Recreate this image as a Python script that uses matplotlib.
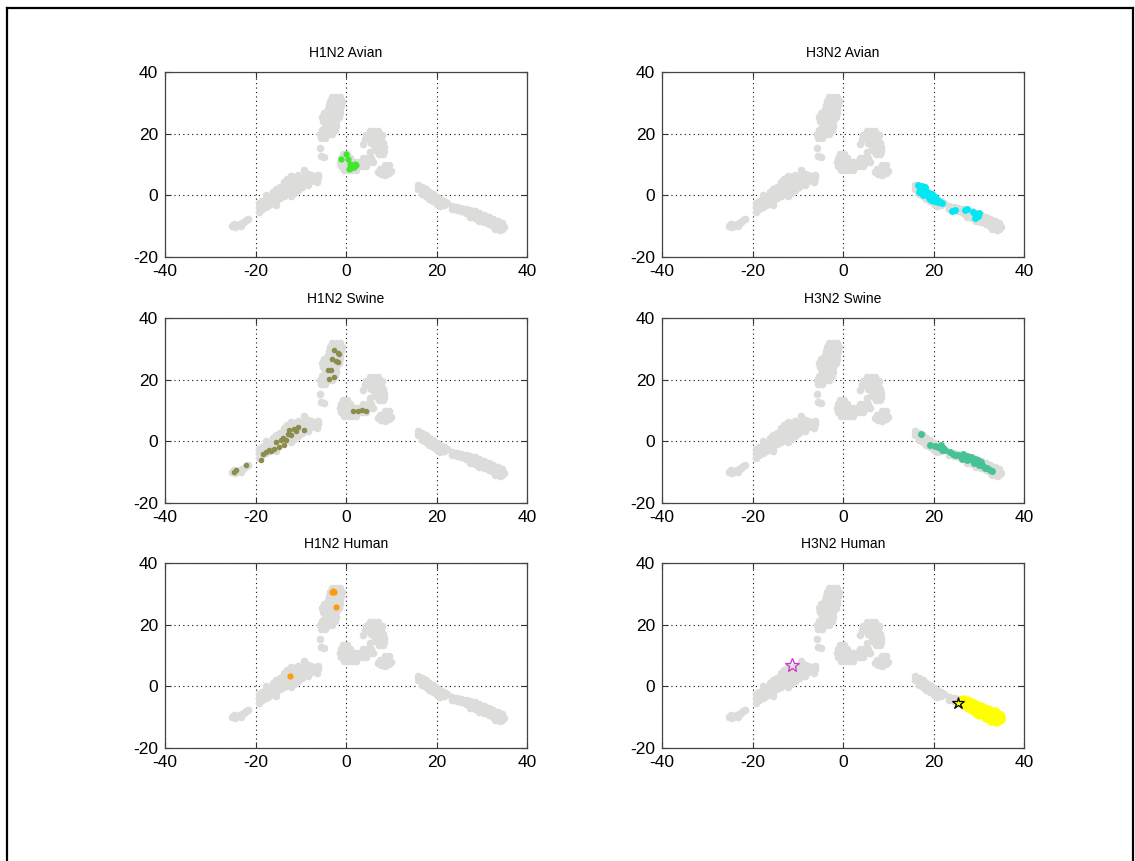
import matplotlib
matplotlib.use("Agg")
import matplotlib.pyplot as plt
from matplotlib.lines import Line2D

plt.rcParams['font.family'] = ['Liberation Sans', 'DejaVu Sans']

# ---------------- data ----------------
x_ticks = [-40, -20, 0, 20, 40]
y_ticks = [-20, 0, 20, 40]
titles = ["H1N2 Avian", "H3N2 Avian", "H1N2 Swine", "H3N2 Swine", "H1N2 Human", "H3N2 Human"]

# common grey background cloud
gray_x = [
    # bottom-left blob
    -25.3, -24.5, -24.0, -23.5, -23.0, -22.5, -22.0, -24.8, -23.2, -21.7,
    # left arm
    -19.3, -19.3, -19.3, -18.5, -18.5, -18.5, -17.7, -17.7, -17.7, -17.7, -17.0, -17.0, -17.0,
    -16.2, -16.2, -16.2, -16.2, -15.4, -15.4, -15.4, -15.4, -15.4, -14.6, -14.6, -14.6, -14.6,
    -13.8, -13.8, -13.8, -13.8, -13.8, -13.0, -13.0, -13.0, -13.0, -13.0,
    -12.2, -12.2, -12.2, -12.2, -12.2, -12.2,
    -11.4, -11.4, -11.4, -11.4, -11.4, -10.6, -10.6, -10.6, -10.6, -10.6, -9.8, -9.8, -9.8, -9.8,
    -9.2, -9.2, -8.5, -8.5, -8.5, -8.5, -7.7, -7.7, -7.7, -6.9, -6.9, -6.1, -6.1, -6.5,
    # top cluster
    -5.8, -5.5, -4.8,
    -5.5, -4.6, -5.8, -4.9, -4.0, -3.2, -5.3, -4.4, -3.5, -2.4, -4.6, -3.7, -2.2,
    -5.0, -4.1, -3.2, -2.3, -5.2, -4.3, -3.4, -2.5, -1.6, -4.8, -3.9, -3.0, -2.1, -1.3,
    -4.0, -3.1, -2.2, -1.3, -3.8, -2.9, -2.0, -1.1, -3.5, -2.6, -1.7, -0.9, -3.0, -2.1, -1.4,
    # centre cluster
    -0.5, 0.4, 1.3, 2.2,
    -1.0, -0.1, 0.8, 1.7, 2.6, 3.5, 4.4,
    -1.3, -0.4, 0.5, 1.4, 2.3, 3.2, 4.1, 5.0, 5.9,
    -1.0, -0.1, 0.8, 3.8, 4.7, 5.6,
    -0.6, 0.3,
    # upper right cluster
    5.3, 6.2, 7.1, 4.4, 5.3, 6.2, 7.1, 7.9, 4.2, 5.1, 6.0, 6.9, 7.8,
    5.5, 6.4, 7.3, 8.1, 6.5, 7.4, 8.3, 6.8, 7.7, 8.4, 7.4, 8.2, 3.7, 5.2,
    # small cluster
    7.0, 7.8, 8.6, 9.4, 7.5, 8.4, 9.2, 10.0, 8.6, 9.4,
    # right arm, first segment
    16.0, 16.0, 16.8, 16.8, 16.8, 17.6, 17.6, 17.6, 18.4, 18.4, 18.4, 19.2, 19.2, 19.2,
    20.0, 20.0, 20.0, 20.8, 20.8, 20.8, 21.6, 21.6, 22.3,
    # right arm, second segment
    23.5, 23.5, 24.5, 24.5, 25.5, 25.5, 26.5, 26.5, 27.5, 27.5, 27.5, 28.5, 28.5, 28.5,
    29.5, 29.5, 29.5, 30.5, 30.5, 30.5, 31.5, 31.5, 31.5, 32.5, 32.5, 32.5,
    33.5, 33.5, 33.5, 34.4, 34.4, 34.4, 35.0, 33.0, 34.0,
]
gray_y = [
    -10.0, -10.2, -9.5, -9.3, -9.0, -8.5, -8.0, -9.2, -9.9, -7.8,
    -5.3, -3.8, -2.5, -4.5, -3.0, -1.8, -3.8, -2.5, -1.2, 0.0, -3.2, -2.0, -0.8,
    -2.5, -1.2, 0.0, 1.2, -3.0, -1.8, -0.5, 0.8, 2.2, -1.0, 0.3, 1.6, 2.8,
    -0.3, 1.0, 2.3, 3.3, 4.4, 0.5, 1.8, 3.0, 4.2, 5.4,
    -0.2, 1.3, 2.5, 3.8, 5.0, 6.2,
    0.8, 2.0, 3.3, 4.6, 5.8, 1.8, 3.0, 4.2, 5.4, 6.6, 2.6, 3.8, 5.0, 6.0,
    8.2, 4.5, 3.2, 4.8, 5.8, 6.8, 4.5, 5.6, 6.6, 5.0, 6.2, 5.5, 6.5, 4.2,
    15.3, 12.6, 12.3,
    18.5, 18.5, 19.8, 19.8, 19.8, 19.8, 21.2, 21.2, 21.2, 21.2, 22.6, 22.6, 22.6,
    24.0, 24.0, 24.0, 24.0, 25.3, 25.3, 25.3, 25.3, 25.3, 26.6, 26.6, 26.6, 26.6, 26.6,
    28.0, 28.0, 28.0, 28.0, 29.3, 29.3, 29.3, 29.3, 30.6, 30.6, 30.6, 30.6, 31.8, 31.8, 31.8,
    8.3, 8.3, 8.3, 8.3,
    9.6, 9.6, 9.6, 9.6, 9.6, 9.6, 9.6,
    10.9, 10.9, 10.9, 10.9, 10.9, 10.9, 10.9, 10.9, 10.9,
    12.2, 12.2, 12.2, 12.2, 12.2, 12.2,
    13.4, 13.4,
    21.0, 21.0, 21.0, 19.7, 19.7, 19.7, 19.7, 19.7, 18.4, 18.4, 18.4, 18.4, 18.4,
    17.1, 17.1, 17.1, 17.1, 15.8, 15.8, 15.8, 14.5, 14.5, 14.5, 13.3, 13.3, 16.8, 14.0,
    7.5, 7.0, 6.7, 7.2, 8.6, 8.3, 8.6, 7.8, 9.8, 9.8,
    3.4, 2.2, 2.8, 1.5, 0.5, 2.0, 0.8, -0.3, 1.2, 0.0, -1.1, 0.4, -0.8, -1.9,
    -0.4, -1.6, -2.7, -1.2, -2.3, -3.3, -1.9, -3.0, -2.6,
    -3.6, -4.4, -3.8, -4.8, -4.0, -5.2, -4.4, -5.6, -4.8, -6.0, -7.0, -5.2, -6.4, -7.5,
    -5.8, -7.0, -8.2, -6.4, -7.6, -8.8, -7.0, -8.2, -9.4, -7.6, -8.8, -10.0,
    -8.2, -9.4, -10.6, -9.0, -10.0, -11.0, -10.2, -11.0, -11.3,
]

# highlighted groups
h1n2_avian_x = [0.0, -1.0, 0.5, 0.8, 1.3, 1.9, 0.6, 1.2, 2.3, 1.7]
h1n2_avian_y = [13.5, 11.8, 11.9, 10.2, 9.6, 10.1, 8.7, 9.0, 9.7, 9.3]

h3n2_avian_x = [16.6, 17.0, 17.4, 17.2, 17.8, 18.0, 18.4, 18.6, 19.0, 19.3, 19.7, 19.9, 20.4,
                20.7, 21.3, 21.8, 18.2, 19.5, 16.9, 17.6, 18.9, 20.2, 21.0,
                24.0, 24.7, 26.9, 27.5, 28.8, 29.3, 29.8, 29.2, 30.0]
h3n2_avian_y = [3.3, 2.5, 3.0, 1.6, 2.0, 0.8, 1.5, 0.0, 0.8, -0.5, 0.3, -1.2, -0.6,
                -1.6, -1.9, -2.5, 2.6, -1.5, 1.2, 0.2, -0.9, -1.8, -2.3,
                -5.1, -4.6, -4.6, -4.5, -5.3, -6.0, -6.8, -7.2, -5.8]

h1n2_swine_x = [-2.6, -1.8, -1.5, -3.0, -2.2, -1.8, -4.0, -3.3, -3.7, -2.6,
                1.5, 2.7, 3.5, 4.4,
                -18.8, -18.4, -17.7, -17.0, -16.6, -15.9, -15.5, -14.7, -13.6, -13.3, -12.9,
                -12.5, -12.2, -11.4, -10.7, -11.1, -9.2, -14.0, -14.4,
                -24.7, -24.3, -22.1]
h1n2_swine_y = [29.5, 28.8, 28.3, 26.8, 26.2, 25.7, 23.2, 23.0, 20.3, 20.8,
                10.0, 9.7, 10.2, 10.0,
                -5.9, -4.0, -3.5, -2.7, -3.1, -2.4, -0.2, -1.8, -1.3, 0.3, 2.5,
                3.6, 1.9, 4.1, 4.6, 3.3, 3.6, 1.2, 0.3,
                -9.9, -9.4, -7.8]

h3n2_swine_x = [17.3, 19.2, 20.3, 21.0, 21.6, 22.0, 22.5, 21.8,
                23.6, 24.2, 24.8, 25.4, 26.0, 26.5, 27.0, 27.5, 27.8, 28.3, 28.7, 29.1, 29.5,
                29.9, 30.3, 30.6, 31.0, 31.3, 31.8, 32.4, 33.0, 30.0, 28.9, 27.3, 26.2]
h3n2_swine_y = [2.5, -1.3, -1.5, -1.8, -1.3, -2.2, -2.9, -2.8,
                -3.6, -4.2, -4.5, -4.4, -4.8, -4.2, -5.2, -4.6, -5.8, -5.2, -6.3, -5.6, -6.8,
                -6.2, -7.3, -6.7, -7.9, -8.5, -8.8, -9.2, -9.5, -7.8, -7.0, -6.0, -5.6]

h1n2_human_x = [-2.9, -2.6, -3.1, -2.2, -12.4]
h1n2_human_y = [31.0, 30.6, 30.7, 25.7, 3.5]

h3n2_human_x = [26.6, 27.5, 28.3, 27.9, 28.8, 29.2, 29.7, 30.0, 30.6, 31.0, 31.5, 31.9, 32.4,
                32.8, 33.2, 33.6, 34.0, 34.2, 33.4, 32.5, 31.5, 30.5, 29.3, 34.6, 34.0,
                27.0, 28.5, 30.0, 31.5, 32.8, 33.8, 34.8, 29.0, 30.5, 32.0, 33.5]
h3n2_human_y = [-4.4, -4.9, -5.5, -6.6, -6.3, -7.2, -6.8, -7.9, -7.4, -8.4, -7.8, -8.9, -8.3,
                -9.4, -8.8, -9.9, -9.3, -10.4, -10.6, -10.0, -9.4, -8.8, -8.2, -9.6, -10.9,
                -6.0, -7.5, -9.0, -10.0, -10.8, -11.2, -10.5, -5.6, -6.6, -7.6, -8.4]

star_magenta = (-11.2, 7.0)
star_black = (25.4, -5.4)

# ---------------- layout ----------------
W, H = 1135, 861
fig = plt.figure(figsize=(W / 100, H / 100), dpi=100)

col_x = [165 / W, 662 / W]
row_y = [1 - 257 / H, 1 - 503 / H, 1 - 748 / H]
aw, ah = 362 / W, 185 / H

GRAY = '#dcdddb'
groups = [
    (h1n2_avian_x, h1n2_avian_y, '#3fe62a', 'o', 4.5),
    (h3n2_avian_x, h3n2_avian_y, '#00e8f4', 'o', 5),
    (h1n2_swine_x, h1n2_swine_y, '#8c8c4c', 'o', 4),
    (h3n2_swine_x, h3n2_swine_y, '#45c394', 'o', 5),
    (h1n2_human_x, h1n2_human_y, '#ff9a10', 'o', 4.5),
    (h3n2_human_x, h3n2_human_y, '#ffff00', 'o', 7.5),
]

for i, (gx, gy, col, mk, ms) in enumerate(groups):
    r, c = divmod(i, 2)
    ax = fig.add_axes([col_x[c], row_y[r], aw, ah])
    ax.plot(gray_x, gray_y, linestyle='none', marker='o', markersize=5.5,
            color=GRAY, markeredgewidth=0, zorder=2)
    ax.plot(gx, gy, linestyle='none', marker=mk, markersize=ms,
            color=col, markeredgewidth=0, zorder=3)
    if i == 5:
        ax.plot([star_black[0]], [star_black[1]], linestyle='none', marker='*', markersize=9,
                markerfacecolor='#ffff00', markeredgecolor='black', markeredgewidth=0.9, zorder=4)
        ax.plot([star_magenta[0]], [star_magenta[1]], linestyle='none', marker='*', markersize=10,
                markerfacecolor='none', markeredgecolor='#cc33cc', markeredgewidth=0.9, zorder=4)
    ax.set_xlim(-40, 40)
    ax.set_ylim(-20, 40)
    ax.set_xticks(x_ticks)
    ax.set_yticks(y_ticks)
    ax.set_xticklabels([str(v) for v in x_ticks])
    ax.set_yticklabels([str(v) for v in y_ticks])
    ax.grid(True, color='#111111', linestyle=(0, (1, 3)), linewidth=0.8)
    ax.set_axisbelow(True)
    ax.tick_params(direction='in', length=4, width=0.8, top=True, right=True,
                   labelsize=12.5, pad=5, colors='#333333', labelcolor='black')
    for s in ax.spines.values():
        s.set_color('#444444')
        s.set_linewidth(0.9)
    ax.set_title(titles[i], fontsize=10, pad=11)

# figure border
fig.add_artist(Line2D([7 / W, 7 / W], [0, 1 - 8 / H], color='black', linewidth=1.6,
                      transform=fig.transFigure))
fig.add_artist(Line2D([7 / W, 1133 / W], [1 - 8 / H, 1 - 8 / H], color='black', linewidth=1.6,
                      transform=fig.transFigure))
fig.add_artist(Line2D([1133 / W, 1133 / W], [0, 1 - 8 / H], color='black', linewidth=1.6,
                      transform=fig.transFigure))

fig.savefig('out.png', dpi=100)
